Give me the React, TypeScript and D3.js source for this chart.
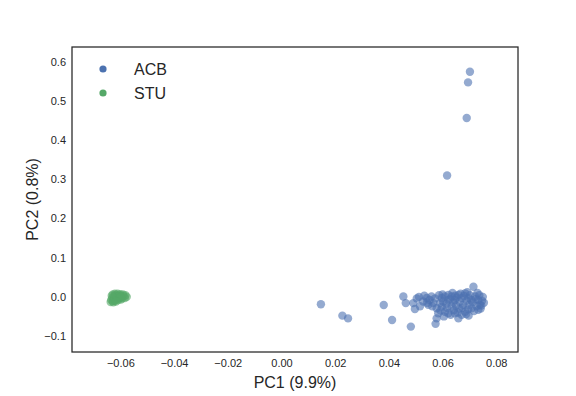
import React, { useEffect, useRef } from 'react';
import * as d3 from 'd3';

// PC1 / PC2 coordinates
const acbPoints: [number, number][] = [
  [0.0700, 0.575], [0.0693, 0.548], [0.0688, 0.457], [0.0615, 0.310],
  [0.0145, -0.019], [0.0225, -0.048], [0.0246, -0.055], [0.0379, -0.021], [0.0410, -0.059], [0.0480, -0.076],
  [0.0452, 0.001], [0.0461, -0.016], [0.0495, -0.031], [0.0514, -0.024], [0.0489, -0.016], [0.0502, -0.004], [0.0510, 0.000],
  [0.0526, -0.012], [0.0539, -0.003], [0.0545, -0.020], [0.0557, 0.001], [0.0564, -0.016], [0.0576, -0.029], [0.0582, -0.042],
  [0.0576, -0.055], [0.0572, -0.069], [0.0595, -0.003], [0.0607, 0.001], [0.0619, -0.008], [0.0632, 0.001], [0.0644, -0.008],
  [0.0657, 0.005], [0.0669, -0.003], [0.0682, 0.009], [0.0694, -0.003], [0.0713, 0.026], [0.0719, 0.001], [0.0731, -0.008],
  [0.0737, -0.020], [0.0731, -0.033], [0.0706, -0.029], [0.0682, -0.038], [0.0669, -0.046], [0.0657, -0.055], [0.0644, -0.042],
  [0.0632, -0.025], [0.0619, -0.042], [0.0607, -0.038], [0.0595, -0.025], [0.0589, -0.016],
  [0.0530, 0.003], [0.0550, -0.008], [0.0570, -0.004], [0.0585, 0.004], [0.0600, -0.012], [0.0612, -0.018], [0.0625, -0.006],
  [0.0638, -0.014], [0.0650, -0.002], [0.0662, -0.012], [0.0675, -0.020], [0.0688, -0.010], [0.0700, 0.004], [0.0710, -0.014],
  [0.0722, -0.006], [0.0735, 0.004], [0.0745, -0.010], [0.0748, 0.000], [0.0742, -0.022], [0.0725, -0.024], [0.0715, -0.036],
  [0.0698, -0.020], [0.0690, 0.012], [0.0678, 0.002], [0.0660, -0.030], [0.0648, -0.022], [0.0640, -0.034], [0.0628, -0.046],
  [0.0615, -0.028], [0.0603, -0.050], [0.0590, -0.035], [0.0598, 0.006], [0.0620, 0.005], [0.0645, 0.003], [0.0665, 0.008],
  [0.0672, -0.028], [0.0686, -0.044], [0.0693, -0.032], [0.0705, -0.008], [0.0728, 0.010], [0.0740, -0.030], [0.0752, -0.015],
  [0.0560, -0.024], [0.0540, -0.015], [0.0635, 0.010], [0.0655, -0.040], [0.0695, -0.048],
];

const stuPoints: [number, number][] = [
  [-0.0630, 0.006], [-0.0622, 0.008], [-0.0612, 0.008], [-0.0602, 0.007], [-0.0592, 0.006], [-0.0583, 0.004],
  [-0.0578, 0.000], [-0.0585, -0.003], [-0.0595, -0.004], [-0.0605, -0.003], [-0.0615, -0.002], [-0.0625, 0.001],
  [-0.0632, -0.002], [-0.0636, -0.008], [-0.0630, -0.011], [-0.0620, -0.009], [-0.0610, -0.008], [-0.0600, -0.007],
  [-0.0618, 0.003], [-0.0608, 0.002], [-0.0598, 0.001], [-0.0590, 0.002], [-0.0626, -0.005], [-0.0614, -0.005],
  [-0.0604, 0.004], [-0.0620, 0.005], [-0.0612, 0.000], [-0.0600, -0.001], [-0.0634, 0.003], [-0.0626, -0.010],
  [-0.0638, -0.013], [-0.0628, -0.014], [-0.0618, -0.012],
];

const groups = ['ACB', 'STU'];
const groupColors = ['#4c72b0', '#55a868'];
const xTicks = [-0.06, -0.04, -0.02, 0.0, 0.02, 0.04, 0.06, 0.08];
const yTicks = [-0.1, 0.0, 0.1, 0.2, 0.3, 0.4, 0.5, 0.6];

const W = 576;
const H = 396;
const FONT = '"Liberation Sans", Arial, sans-serif';

export default function App() {
  const svgRef = useRef<SVGSVGElement>(null);

  useEffect(() => {
    if (!svgRef.current) return;
    const svg = d3.select(svgRef.current);
    svg.selectAll('*').remove();

    const left = 72, right = 518, top = 47, bottom = 352;
    const x = d3.scaleLinear().domain([-0.0782, 0.0879]).range([left, right]);
    const y = d3.scaleLinear().domain([-0.1409, 0.6384]).range([bottom, top]);

    const g = svg.append('g');

    // points
    [acbPoints, stuPoints].forEach((pts, i) => {
      g.append('g')
        .selectAll('circle')
        .data(pts)
        .join('circle')
        .attr('cx', d => x(d[0]))
        .attr('cy', d => y(d[1]))
        .attr('r', 4.2)
        .attr('fill', groupColors[i])
        .attr('fill-opacity', 0.6);
    });

    // frame
    g.append('rect')
      .attr('x', left)
      .attr('y', top)
      .attr('width', right - left)
      .attr('height', bottom - top)
      .attr('fill', 'none')
      .attr('stroke', '#262626')
      .attr('stroke-width', 1.25);

    // tick labels
    g.selectAll('.xt')
      .data(xTicks)
      .join('text')
      .attr('x', d => x(d))
      .attr('y', bottom + 15)
      .attr('text-anchor', 'middle')
      .style('font-family', FONT)
      .style('font-size', '11px')
      .attr('fill', '#262626')
      .text(d => d3.format('.2f')(d).replace('-', '\u2212'));

    g.selectAll('.yt')
      .data(yTicks)
      .join('text')
      .attr('x', left - 6)
      .attr('y', d => y(d))
      .attr('dy', '0.35em')
      .attr('text-anchor', 'end')
      .style('font-family', FONT)
      .style('font-size', '11px')
      .attr('fill', '#262626')
      .text(d => d3.format('.1f')(d).replace('-', '\u2212'));

    // axis labels
    g.append('text')
      .attr('x', (left + right) / 2)
      .attr('y', 388)
      .attr('text-anchor', 'middle')
      .style('font-family', FONT)
      .style('font-size', '16px')
      .attr('fill', '#262626')
      .text('PC1 (9.9%)');

    g.append('text')
      .attr('transform', `translate(38,${(top + bottom) / 2}) rotate(-90)`)
      .attr('text-anchor', 'middle')
      .style('font-family', FONT)
      .style('font-size', '16px')
      .attr('fill', '#262626')
      .text('PC2 (0.8%)');

    // legend
    groups.forEach((name, i) => {
      const ly = 69 + i * 24;
      g.append('circle')
        .attr('cx', 103)
        .attr('cy', ly)
        .attr('r', 3.6)
        .attr('fill', groupColors[i]);
      g.append('text')
        .attr('x', 134)
        .attr('y', ly)
        .attr('dy', '0.36em')
        .style('font-family', FONT)
        .style('font-size', '16px')
        .attr('fill', '#262626')
        .text(name);
    });
  }, []);

  return (
    <svg
      ref={svgRef}
      width={W}
      height={H}
      style={{ position: 'absolute', left: 0, top: 0, background: '#fff' }}
    />
  );
}
